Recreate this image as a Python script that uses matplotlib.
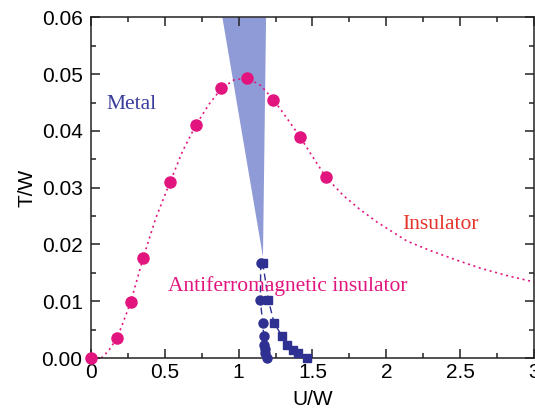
import matplotlib
matplotlib.use("Agg")
import matplotlib.pyplot as plt
from matplotlib.ticker import MultipleLocator, FormatStrFormatter

# pink Mott transition points (U/W, T/W)
mott_u = [0.0, 0.176, 0.268, 0.353, 0.536, 0.710, 0.884, 1.058, 1.236, 1.415, 1.591]
mott_t = [0.0, 0.0035, 0.0099, 0.0176, 0.0310, 0.0410, 0.0475, 0.0493, 0.0455, 0.0390, 0.0319]

# dotted guide curve
curve_u = [0.07, 0.12, 0.176, 0.22, 0.27, 0.31, 0.353, 0.44, 0.536, 0.62, 0.71, 0.80, 0.884,
           0.97, 1.058, 1.15, 1.236, 1.32, 1.415, 1.50, 1.59, 1.71, 1.82, 1.94, 2.14, 2.30,
           2.47, 2.64, 2.82, 3.0]
curve_t = [0.0, 0.0013, 0.0035, 0.0064, 0.0099, 0.0136, 0.0176, 0.0247, 0.0310, 0.0364,
           0.0410, 0.0447, 0.0475, 0.0490, 0.0493, 0.0480, 0.0455, 0.0425, 0.0390, 0.0355,
           0.0319, 0.0286, 0.0262, 0.0239, 0.0206, 0.0189, 0.0173, 0.0158, 0.0145, 0.0134]

# coexistence wedge
wedge_u = [0.890, 1.186, 1.165]
wedge_t = [0.06, 0.06, 0.0178]

# AF boundary, circles and squares
circ_u = [1.150, 1.147, 1.163, 1.170, 1.172, 1.176, 1.182, 1.190]
circ_t = [0.0167, 0.0102, 0.0062, 0.0038, 0.0023, 0.0016, 0.0009, 0.0]
sq_u = [1.163, 1.202, 1.240, 1.295, 1.330, 1.370, 1.405, 1.462]
sq_t = [0.0168, 0.0102, 0.0062, 0.0038, 0.0023, 0.0015, 0.0008, 0.0]

pink = '#e2157f'
navy = '#2e3192'

fig = plt.figure(figsize=(5.35, 4.18), dpi=100)
ax = fig.add_axes([0.170, 0.1435, 0.828, 0.815])

ax.fill(wedge_u, wedge_t, color='#8f9bd6', lw=0, zorder=1)
ax.plot(curve_u, curve_t, color=pink, lw=1.2, linestyle=(0, (1.2, 2.2)), zorder=2)
ax.plot(mott_u, mott_t, 'o', color=pink, ms=8, zorder=3, clip_on=False)

ax.plot(circ_u, circ_t, color=navy, lw=1.0, linestyle=(0, (5, 3)), zorder=3)
ax.plot(sq_u, sq_t, color=navy, lw=1.0, linestyle=(0, (5, 3)), zorder=3)
ax.plot(circ_u, circ_t, 'o', color=navy, ms=6.5, zorder=4, clip_on=False)
ax.plot(sq_u, sq_t, 's', color=navy, ms=6, zorder=4, clip_on=False)

serif = 'Liberation Serif'
ax.text(0.108, 0.0447, 'Metal', color='#3a3d9c', fontsize=15.5, family=serif, va='center')
ax.text(0.522, 0.0127, 'Antiferromagnetic insulator', color=pink, fontsize=15.5,
        family=serif, va='center')
ax.text(2.108, 0.0236, 'Insulator', color='#e5342c', fontsize=15.5, family=serif, va='center')

ax.set_xlim(0, 3)
ax.set_ylim(0, 0.06)
ax.xaxis.set_major_locator(MultipleLocator(0.5))
ax.xaxis.set_minor_locator(MultipleLocator(0.25))
ax.yaxis.set_major_locator(MultipleLocator(0.01))
ax.yaxis.set_minor_locator(MultipleLocator(0.005))
ax.xaxis.set_major_formatter(plt.FuncFormatter(lambda v, p: f'{v:g}'))
ax.yaxis.set_major_formatter(FormatStrFormatter('%.2f'))

ax.tick_params(which='both', direction='in', top=True, right=True, width=1.1,
               labelsize=15, labelfontfamily='Liberation Sans', color='#222222')
ax.tick_params(which='major', length=6.5)
ax.tick_params(which='minor', length=3.5)
ax.tick_params(axis='x', which='major', pad=3.5)
ax.tick_params(axis='y', which='major', pad=6)
for s in ax.spines.values():
    s.set_linewidth(1.1)
    s.set_color('#222222')

ax.set_xlabel('U/W', fontsize=15, family='Liberation Sans', labelpad=6)
ax.set_ylabel('T/W', fontsize=15, family='Liberation Sans', labelpad=4)

fig.savefig('out.png', dpi=100)
